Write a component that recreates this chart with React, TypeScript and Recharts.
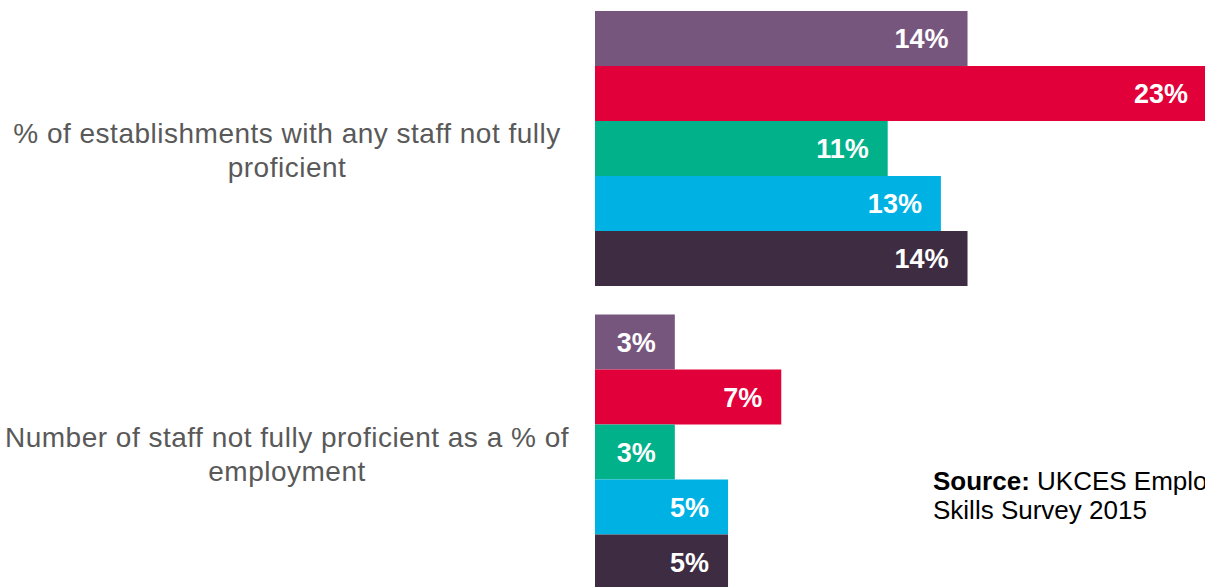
import { Bar, BarChart, LabelList, XAxis, YAxis } from 'recharts';

const categories = [
  '% of establishments with any staff not fully proficient',
  'Number of staff not fully proficient as a % of employment',
];

const seriesNames = ['s1', 's2', 's3', 's4', 's5'];
const s1Values = [14, 3];
const s2Values = [23, 7];
const s3Values = [11, 3];
const s4Values = [13, 5];
const s5Values = [14, 5];

const COLORS = ['#77567D', '#E2003A', '#00B189', '#00B2E3', '#3E2C42'];

const data = categories.map((name, i) => ({
  name,
  s1: s1Values[i],
  s2: s2Values[i],
  s3: s3Values[i],
  s4: s4Values[i],
  s5: s5Values[i],
}));

const FONT = '"Liberation Sans", Arial, sans-serif';
const TICK_FONT_SIZE = 28;

let ctx: CanvasRenderingContext2D | null = null;
function measure(text: string) {
  if (!ctx) ctx = document.createElement('canvas').getContext('2d');
  if (!ctx) return text.length * TICK_FONT_SIZE * 0.5;
  ctx.font = `${TICK_FONT_SIZE}px ${FONT}`;
  return ctx.measureText(text).width;
}

// simple word wrap so the long category names break like the original
function wrapLines(text: string, maxWidth: number) {
  const words = text.split(' ');
  const lines: string[] = [];
  let cur = '';
  words.forEach((w) => {
    const next = cur ? `${cur} ${w}` : w;
    if (cur && measure(next) > maxWidth) {
      lines.push(cur);
      cur = w;
    } else {
      cur = next;
    }
  });
  if (cur) lines.push(cur);
  return lines;
}

function CategoryTick(props: any) {
  const { y, payload } = props;
  const lines = wrapLines(String(payload.value), 555);
  const lineH = 34;
  const startY = y + 2.5 - ((lines.length - 1) * lineH) / 2;
  return (
    <text
      x={287}
      y={startY}
      textAnchor="middle"
      dominantBaseline="central"
      fill="#595959"
      style={{ fontSize: TICK_FONT_SIZE, fontFamily: FONT, letterSpacing: 0.5 }}
    >
      {lines.map((line, i) => (
        <tspan key={i} x={287} y={startY + i * lineH}>
          {line}
        </tspan>
      ))}
    </text>
  );
}

export default function App() {
  return (
    <div
      style={{
        position: 'absolute',
        left: 0,
        top: 0,
        width: 1205,
        height: 587,
        overflow: 'hidden',
        background: '#fff',
        fontFamily: FONT,
      }}
    >
      <div style={{ position: 'absolute', left: 0, top: -4 }}>
        <BarChart
          width={1220}
          height={607}
          data={data}
          layout="vertical"
          margin={{ top: 0, right: 13, bottom: 0, left: 0 }}
          barCategoryGap={15}
          barGap={0}
        >
          <XAxis type="number" domain={[0, 23]} hide />
          <YAxis
            type="category"
            dataKey="name"
            width={595}
            axisLine={false}
            tickLine={false}
            tick={<CategoryTick />}
          />
          {seriesNames.map((key, i) => (
            <Bar key={key} dataKey={key} fill={COLORS[i]} isAnimationActive={false}>
              <LabelList
                dataKey={key}
                position="insideRight"
                offset={19}
                formatter={(v: any) => `${v}%`}
                style={{ fill: '#fff', fontSize: 27, fontWeight: 700, fontFamily: FONT }}
              />
            </Bar>
          ))}
        </BarChart>
      </div>
      <div
        style={{
          position: 'absolute',
          left: 933,
          top: 467,
          fontSize: 26,
          lineHeight: '29px',
          color: '#000',
          whiteSpace: 'nowrap',
        }}
      >
        <b>Source:</b> UKCES Employer
        <br />
        Skills Survey 2015
      </div>
    </div>
  );
}
